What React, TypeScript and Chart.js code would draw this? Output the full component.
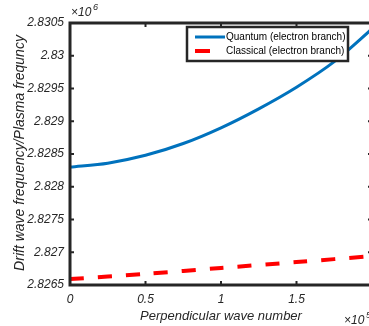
import React, { useEffect, useRef } from "react";
import { Chart, registerables } from "chart.js";

Chart.register(...registerables);

const xValues = [0, 0.25, 0.5, 0.75, 1.0, 1.25, 1.5, 1.75, 2.0];
const quantum = [2.8283, 2.82836, 2.82848, 2.82866, 2.8289, 2.82919, 2.82952, 2.82991, 2.83041];
const classicalX = [0, 0.5, 1.0, 1.5, 2.0];
const classical = [2.82659, 2.82667, 2.82676, 2.82685, 2.82694];
const yTicks = [2.8265, 2.827, 2.8275, 2.828, 2.8285, 2.829, 2.8295, 2.83, 2.8305];
const xTicks = [0, 0.5, 1, 1.5, 2];
const xTickLabels = ["0", "0.5", "1", "1.5", ""];
const seriesNames = ["Quantum (electron branch)", "Classical (electron branch)"];
const xTitle = "Perpendicular wave number";
const yTitle = "Drift wave frequency/Plasma frequncy";

const FONT = "'Liberation Sans', Arial, sans-serif";
const AX = "#262626";
const BLUE = "#0072BD";
const RED = "#FF0000";

const decor = {
  id: "decor",
  afterDraw(chart: any) {
    const { ctx, chartArea: a, scales } = chart;
    const xs = scales.x, ys = scales.y;
    ctx.save();
    ctx.strokeStyle = AX;
    ctx.lineWidth = 3;
    ctx.strokeRect(a.left, a.top, a.right - a.left, a.bottom - a.top);
    ctx.lineWidth = 2;
    const tl = 4;
    yTicks.forEach((v) => {
      const y = ys.getPixelForValue(v);
      ctx.beginPath();
      ctx.moveTo(a.left, y); ctx.lineTo(a.left + tl, y);
      ctx.moveTo(a.right, y); ctx.lineTo(a.right - tl, y);
      ctx.stroke();
    });
    xTicks.forEach((v) => {
      const x = xs.getPixelForValue(v);
      ctx.beginPath();
      ctx.moveTo(x, a.bottom); ctx.lineTo(x, a.bottom - tl);
      ctx.moveTo(x, a.top); ctx.lineTo(x, a.top + tl);
      ctx.stroke();
    });
    ctx.fillStyle = AX;
    ctx.font = `italic 12px ${FONT}`;
    ctx.textBaseline = "alphabetic";
    ctx.textAlign = "left";
    ctx.fillText("\u00d710", a.left + 1, 16);
    ctx.font = `italic 9px ${FONT}`;
    ctx.fillText("6", a.left + 23, 10);
    ctx.font = `italic 12px ${FONT}`;
    ctx.fillText("\u00d710", a.right - 28, 324);
    ctx.font = `italic 9px ${FONT}`;
    ctx.fillText("5", a.right - 6, 318);
    ctx.font = `italic 13px ${FONT}`;
    ctx.textAlign = "center";
    ctx.textBaseline = "middle";
    ctx.fillText(xTitle, (a.left + a.right) / 2, 316);
    ctx.save();
    ctx.font = `italic 14px ${FONT}`;
    ctx.translate(20, (a.top + a.bottom) / 2 - 1);
    ctx.rotate(-Math.PI / 2);
    ctx.fillText(yTitle, 0, 0);
    ctx.restore();
    const lx = 187, ly = 27, lw = 161, lh = 34;
    ctx.fillStyle = "#fff";
    ctx.fillRect(lx, ly, lw, lh);
    ctx.strokeStyle = AX;
    ctx.lineWidth = 2.5;
    ctx.strokeRect(lx, ly, lw, lh);
    ctx.lineWidth = 3;
    ctx.strokeStyle = BLUE;
    ctx.beginPath(); ctx.moveTo(195, 37); ctx.lineTo(225, 37); ctx.stroke();
    ctx.lineWidth = 4;
    ctx.strokeStyle = RED;
    ctx.beginPath(); ctx.moveTo(195, 51); ctx.lineTo(210, 51); ctx.stroke();
    ctx.fillStyle = "#000";
    ctx.font = `10px ${FONT}`;
    ctx.textAlign = "left";
    ctx.textBaseline = "middle";
    ctx.fillText(seriesNames[0], 226, 37);
    ctx.fillText(seriesNames[1], 226, 51);
    ctx.restore();
  },
};

export default function App() {
  const ref = useRef<HTMLCanvasElement>(null);
  useEffect(() => {
    const chart = new Chart(ref.current!, {
      type: "line",
      data: {
        datasets: [
          {
            label: seriesNames[0],
            data: xValues.map((x, i) => ({ x, y: quantum[i] })),
            borderColor: BLUE,
            borderWidth: 3,
            pointRadius: 0,
            tension: 0.3,
            fill: false,
          },
          {
            label: seriesNames[1],
            data: classicalX.map((x, i) => ({ x, y: classical[i] })),
            borderColor: RED,
            borderWidth: 4,
            borderDash: [14, 14],
            pointRadius: 0,
            tension: 0.3,
            fill: false,
          },
        ],
      },
      options: {
        animation: false,
        responsive: false,
        devicePixelRatio: 1,
        layout: { padding: { top: 23, right: 8, left: 0, bottom: 0 } },
        plugins: { legend: { display: false }, tooltip: { enabled: false } },
        scales: {
          x: {
            type: "linear",
            min: 0,
            max: 2,
            grid: { display: false, drawTicks: false },
            border: { display: false },
            afterFit: (s: any) => { s.height = 41; },
            afterBuildTicks: (s: any) => { s.ticks = xTicks.map((v) => ({ value: v })); },
            ticks: {
              autoSkip: false,
              maxRotation: 0,
              padding: 7,
              color: AX,
              font: { family: FONT, size: 12, style: "italic" },
              callback: (_v: any, i: number) => xTickLabels[i],
            },
          },
          y: {
            type: "linear",
            min: 2.8265,
            max: 2.8305,
            grid: { display: false, drawTicks: false },
            border: { display: false },
            afterFit: (s: any) => { s.width = 70; },
            afterBuildTicks: (s: any) => { s.ticks = yTicks.map((v) => ({ value: v })); },
            ticks: {
              autoSkip: false,
              padding: 6,
              color: AX,
              font: { family: FONT, size: 12, style: "italic" },
              callback: (v: any) => String(Number(Number(v).toFixed(4))),
            },
          },
        },
      },
      plugins: [decor],
    } as any);
    return () => chart.destroy();
  }, []);
  return (
    <div style={{ position: "fixed", left: 0, top: 0, width: 369, height: 326, overflow: "hidden", background: "#fff" }}>
      <canvas ref={ref} width={380} height={326} style={{ display: "block", width: 380, height: 326 }} />
    </div>
  );
}
